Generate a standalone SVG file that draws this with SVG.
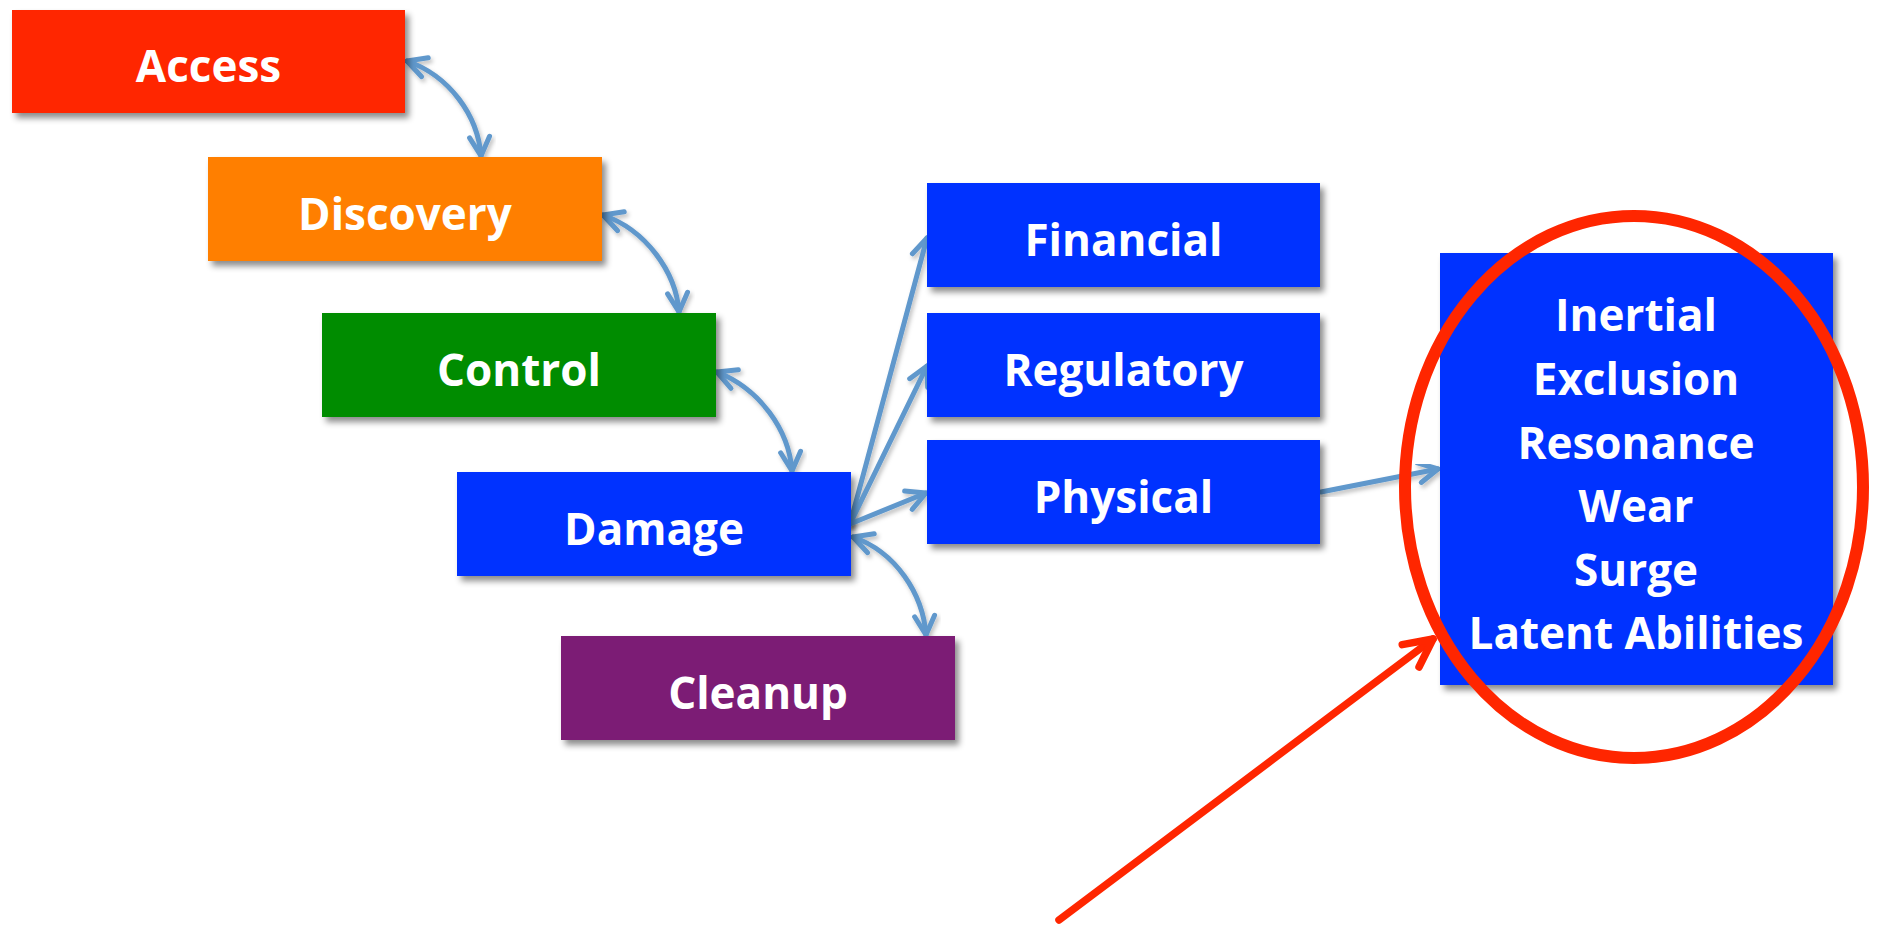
<svg xmlns="http://www.w3.org/2000/svg" width="1878" height="925" viewBox="0 0 1878 925">
  <style>
    .box { filter: url(#shadow); }
    .lbl { font-family: "Open Sans", "Liberation Sans", sans-serif; font-weight: bold; font-size: 44px; fill: #ffffff; text-anchor: middle; }
    .conn { fill: none; stroke: #6098cc; stroke-width: 5; stroke-linecap: round; filter: url(#lshadow); }
    .red { fill: none; stroke: #ff2600; stroke-linecap: round; }
  </style>
  <defs>
    <filter id="shadow" x="-10%" y="-10%" width="125%" height="130%">
      <feDropShadow dx="4" dy="5" stdDeviation="3" flood-color="#000" flood-opacity="0.45"/>
    </filter>
    <filter id="lshadow" x="-20%" y="-20%" width="140%" height="140%">
      <feDropShadow dx="2" dy="3" stdDeviation="2" flood-color="#000" flood-opacity="0.25"/>
    </filter>
    <marker id="ah" markerUnits="userSpaceOnUse" viewBox="-24 -14 28 28" refX="0" refY="0" markerWidth="28" markerHeight="28" orient="auto-start-reverse">
      <path d="M -19 -10 L 0 0 L -19 10" fill="none" stroke="#6098cc" stroke-width="5" stroke-linecap="round" stroke-linejoin="round"/>
    </marker>
    <marker id="rah" markerUnits="userSpaceOnUse" viewBox="-36 -20 42 40" refX="0" refY="0" markerWidth="42" markerHeight="40" orient="auto">
      <path d="M -28 -14 L 0 0 L -28 14" fill="none" stroke="#ff2600" stroke-width="7.5" stroke-linecap="round" stroke-linejoin="round"/>
    </marker>
  </defs>
  <rect width="1878" height="925" fill="#ffffff"/>

  <g id="connectors">
    <path class="conn" d="M 407 61 C 450 76, 478 116, 481 156" marker-start="url(#ah)" marker-end="url(#ah)"/>
    <path class="conn" d="M 603 215 C 646 230, 676 272, 679 312" marker-start="url(#ah)" marker-end="url(#ah)"/>
    <path class="conn" d="M 717 372 C 760 389, 789 430, 792 471" marker-start="url(#ah)" marker-end="url(#ah)"/>
    <path class="conn" d="M 853 537 C 896 552, 923 594, 926 635" marker-start="url(#ah)" marker-end="url(#ah)"/>
    <path class="conn" d="M 850 524 L 927 238" marker-end="url(#ah)"/>
    <path class="conn" d="M 850 524 L 927 366" marker-end="url(#ah)"/>
    <path class="conn" d="M 850 524 L 926 493" marker-end="url(#ah)"/>
    <path class="conn" d="M 1321 492 L 1438 469" marker-end="url(#ah)"/>
  </g>

  <g id="access">
    <rect class="box" x="12" y="10" width="393" height="103" fill="#ff2600"/>
    <text class="lbl" x="208.5" y="82">Access</text>
  </g>
  <g id="discovery">
    <rect class="box" x="208" y="157" width="394" height="104" fill="#ff7f00"/>
    <text class="lbl" x="405" y="230">Discovery</text>
  </g>
  <g id="control">
    <rect class="box" x="322" y="313" width="394" height="104" fill="#038c06"/>
    <text class="lbl" x="519" y="386">Control</text>
  </g>
  <g id="damage">
    <rect class="box" x="457" y="472" width="394" height="104" fill="#0433ff"/>
    <text class="lbl" x="654" y="545">Damage</text>
  </g>
  <g id="cleanup">
    <rect class="box" x="561" y="636" width="394" height="104" fill="#7b1a75"/>
    <text class="lbl" x="758" y="709">Cleanup</text>
  </g>
  <g id="financial">
    <rect class="box" x="927" y="183" width="393" height="104" fill="#0433ff"/>
    <text class="lbl" x="1123.5" y="256">Financial</text>
  </g>
  <g id="regulatory">
    <rect class="box" x="927" y="313" width="393" height="104" fill="#0433ff"/>
    <text class="lbl" x="1123.5" y="386">Regulatory</text>
  </g>
  <g id="physical">
    <rect class="box" x="927" y="440" width="393" height="104" fill="#0433ff"/>
    <text class="lbl" x="1123.5" y="513">Physical</text>
  </g>
  <g id="effects">
    <rect class="box" x="1440" y="253" width="393" height="432" fill="#0433ff"/>
    <text class="lbl" x="1636" y="331">Inertial</text>
    <text class="lbl" x="1636" y="395">Exclusion</text>
    <text class="lbl" x="1636" y="459">Resonance</text>
    <text class="lbl" x="1636" y="522">Wear</text>
    <text class="lbl" x="1636" y="586">Surge</text>
    <text class="lbl" x="1636" y="649">Latent Abilities</text>
  </g>

  <g id="highlight">
    <ellipse class="red" cx="1634" cy="487" rx="229" ry="271" stroke-width="12"/>
    <path class="red" d="M 1059 920 L 1433 639" stroke-width="7.5" marker-end="url(#rah)"/>
  </g>
</svg>
